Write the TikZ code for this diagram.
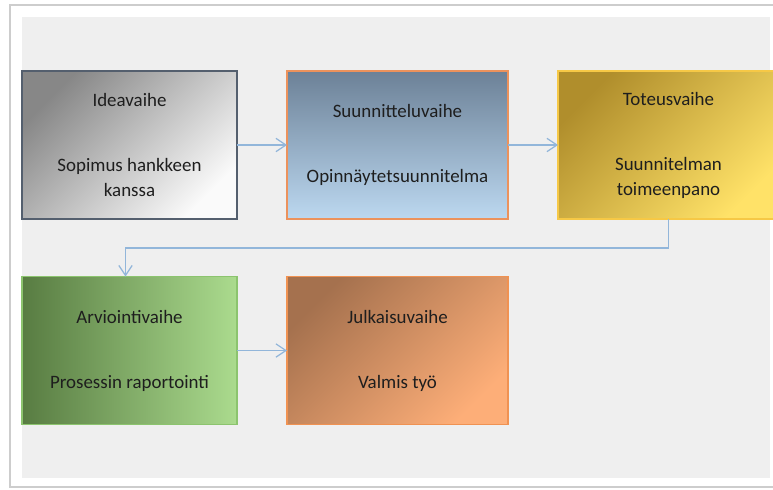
\documentclass[tikz,border=0pt]{standalone}
\usepackage{fontspec}
\setmainfont{Carlito}
\usetikzlibrary{arrows.meta}

\definecolor{kehys}{RGB}{205,205,205}
\definecolor{tausta}{RGB}{239,239,239}
\definecolor{nuolisin}{RGB}{146,182,218}
\definecolor{tummateksti}{RGB}{30,30,30}

\tikzset{every picture/.style={line width=0.75pt}}
\tikzset{
  vaihe/.style={draw, line width=1pt, minimum width=161.25pt, minimum height=111pt,
    inner sep=0pt, outer sep=0pt, align=center, text=tummateksti,
    font=\fontsize{14.2}{18.75}\selectfont},
  nuoli/.style={draw=nuolisin, line width=0.9pt, -{Straight Barb[length=7.5pt,width=10pt]}}
}

\begin{document}
\begin{tikzpicture}[x=0.75pt,y=0.75pt,yscale=-1,xscale=1]
\clip (0,0) rectangle (773,489);
\fill [white] (0,0) rectangle (773,489);

%Frame
\draw [kehys, line width=1.2pt] (10,5) rectangle (790,487);
\fill [tausta] (22,17) rectangle (770,478);

%Phase boxes
\node (idea) [vaihe, draw={rgb,255:red,84;green,95;blue,110}, top color={rgb,255:red,135;green,135;blue,135}, bottom color={rgb,255:red,250;green,250;blue,250}, shading angle=45] at (129.5,145) {Ideavaihe\\[30pt]Sopimus hankkeen\\kanssa};
\node (suunnittelu) [vaihe, minimum width=165.75pt, draw={rgb,255:red,236;green,146;blue,92}, top color={rgb,255:red,108;green,129;blue,151}, bottom color={rgb,255:red,188;green,216;blue,240}] at (397.5,145) {Suunnitteluvaihe\\[30pt]Opinnäytetsuunnitelma};
\node (toteus) [vaihe, minimum width=165.75pt, draw={rgb,255:red,246;green,200;blue,70}, top color={rgb,255:red,176;green,142;blue,44}, bottom color={rgb,255:red,255;green,226;blue,104}, shading angle=45] at (668.5,145) {Toteusvaihe\\[30pt]Suunnitelman\\toimeenpano};
\node (arviointi) [vaihe, draw={rgb,255:red,140;green,196;blue,110}, left color={rgb,255:red,88;green,124;blue,66}, right color={rgb,255:red,171;green,219;blue,142}] at (129.5,350.5) {Arviointivaihe\\[30pt]Prosessin raportointi};
\node (julkaisu) [vaihe, minimum width=165.75pt, draw={rgb,255:red,240;green,146;blue,82}, top color={rgb,255:red,165;green,113;blue,78}, bottom color={rgb,255:red,253;green,174;blue,120}, shading angle=45] at (397.5,350.5) {Julkaisuvaihe\\[30pt]Valmis työ};

%Connectors
\draw [nuoli] (idea) -- (suunnittelu);
\draw [nuoli] (suunnittelu) -- (toteus);
\draw [nuoli] (toteus.south) -- ++(0,29) -| ([xshift=-3pt]arviointi.north);
\draw [nuoli] (arviointi) -- (julkaisu);

\end{tikzpicture}
\end{document}
